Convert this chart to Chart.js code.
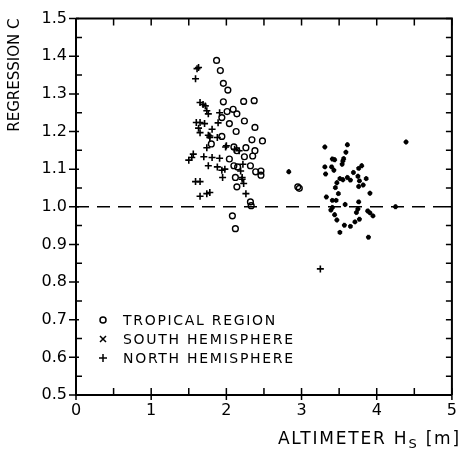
<!DOCTYPE html>
<html>
<head>
<meta charset="utf-8">
<script src="https://cdn.jsdelivr.net/npm/chart.js@4.4.1/dist/chart.umd.min.js"></script>
<style>
  html, body { margin: 0; padding: 0; background: #fff; }
  canvas { display: block; }
</style>
</head>
<body>
<canvas id="myChart" width="463" height="451"></canvas>
<script>
// tropical region (open circles)
const tropicalX = [1.87, 1.92, 1.96, 2.02, 1.96, 2.23, 2.37, 2.01, 2.09, 2.14, 2.24, 2.04, 1.94, 2.13, 2.38, 2.34, 2.48, 1.80, 1.94, 2.10, 2.14, 2.26, 2.38, 2.04, 2.24, 2.35, 2.10, 2.15, 2.32, 2.39, 2.46, 2.46, 2.12, 2.14, 2.32, 2.33, 2.08, 2.12, 2.95, 2.97];
const tropicalY = [1.389, 1.362, 1.328, 1.310, 1.279, 1.280, 1.282, 1.253, 1.259, 1.247, 1.228, 1.221, 1.237, 1.200, 1.211, 1.178, 1.175, 1.167, 1.187, 1.159, 1.149, 1.157, 1.149, 1.127, 1.133, 1.135, 1.109, 1.106, 1.109, 1.093, 1.095, 1.084, 1.078, 1.053, 1.013, 1.003, 0.976, 0.942, 1.053, 1.049];

// south hemisphere (x)
const southX = [2.83, 3.31, 3.61, 3.59, 3.41, 3.44, 3.56, 3.55, 3.54, 3.31, 3.40, 3.43, 3.32, 3.80, 3.76, 3.69, 3.75, 3.86, 3.51, 3.55, 3.61, 3.65, 3.47, 3.77, 3.76, 3.82, 3.45, 3.91, 3.49, 3.33, 3.41, 3.46, 3.58, 3.76, 4.25, 4.39, 3.41, 3.39, 3.75, 3.73, 3.88, 3.91, 3.95, 3.44, 3.47, 3.77, 3.71, 3.57, 3.65, 3.51, 3.89];
const southY = [1.093, 1.159, 1.165, 1.145, 1.127, 1.125, 1.128, 1.122, 1.113, 1.106, 1.106, 1.097, 1.087, 1.109, 1.102, 1.091, 1.081, 1.075, 1.075, 1.072, 1.078, 1.071, 1.064, 1.069, 1.054, 1.058, 1.051, 1.036, 1.035, 1.026, 1.017, 1.017, 1.006, 1.013, 1.000, 1.172, 0.998, 0.991, 0.994, 0.985, 0.989, 0.984, 0.976, 0.979, 0.965, 0.967, 0.960, 0.951, 0.948, 0.932, 0.919];

// north hemisphere (+)
const northX = [1.61, 1.63, 1.59, 1.65, 1.69, 1.72, 1.74, 1.76, 1.60, 1.65, 1.71, 1.63, 1.81, 1.65, 1.76, 1.78, 1.88, 1.91, 1.89, 1.74, 1.99, 1.56, 1.54, 1.50, 1.70, 1.81, 1.91, 1.76, 1.88, 1.94, 1.98, 1.95, 1.59, 1.65, 1.65, 1.74, 1.78, 2.26, 2.23, 2.21, 2.11, 2.17, 2.22, 2.19, 2.21, 2.00, 1.78, 3.25];
const northY = [1.367, 1.370, 1.340, 1.277, 1.272, 1.268, 1.255, 1.247, 1.224, 1.224, 1.221, 1.209, 1.206, 1.197, 1.190, 1.184, 1.184, 1.250, 1.223, 1.157, 1.159, 1.140, 1.131, 1.124, 1.133, 1.131, 1.129, 1.109, 1.106, 1.097, 1.100, 1.078, 1.067, 1.067, 1.028, 1.035, 1.038, 1.035, 1.062, 1.073, 1.153, 1.149, 1.113, 1.095, 1.078, 1.162, 1.188, 0.835];

const xTicks = [0, 1, 2, 3, 4, 5];
const seriesNames = ["TROPICAL REGION", "SOUTH HEMISPHERE", "NORTH HEMISPHERE"];

const FONT = "'DejaVu Sans', sans-serif";

function pts(xs, ys) {
  return xs.map((x, i) => ({ x: x, y: ys[i] }));
}

// dashed line at C = 1.0
const refLine = {
  id: "refLine",
  beforeDatasetsDraw(chart) {
    const { ctx, chartArea, scales } = chart;
    const y = scales.y.getPixelForValue(1.0);
    ctx.save();
    ctx.strokeStyle = "#000";
    ctx.lineWidth = 1.5;
    ctx.setLineDash([13, 8]);
    ctx.beginPath();
    ctx.moveTo(chartArea.left, y);
    ctx.lineTo(chartArea.right, y);
    ctx.stroke();
    ctx.restore();
  }
};

// box, tick marks, legend and x title
const decor = {
  id: "decor",
  afterDraw(chart) {
    const { ctx, chartArea: a, scales } = chart;
    const sx = scales.x, sy = scales.y;
    ctx.save();
    ctx.strokeStyle = "#000";
    ctx.fillStyle = "#000";
    ctx.lineWidth = 2;
    ctx.beginPath();
    ctx.moveTo(a.left, a.top);
    ctx.lineTo(a.right, a.top);
    ctx.lineTo(a.right, a.bottom);
    ctx.stroke();

    ctx.lineWidth = 1.5;
    ctx.beginPath();
    for (let v = 0; v <= 5.001; v += 0.5) {
      const px = sx.getPixelForValue(v);
      ctx.moveTo(px, a.top); ctx.lineTo(px, a.top + 7);
      const major = Math.abs(v - Math.round(v)) < 0.01;
      ctx.moveTo(px, a.bottom - 7); ctx.lineTo(px, a.bottom + (major ? 5 : 0));
    }
    for (let v = 0.5; v <= 1.501; v += 0.05) {
      const py = sy.getPixelForValue(v);
      const major = Math.abs(v * 10 - Math.round(v * 10)) < 0.01;
      ctx.moveTo(a.right, py); ctx.lineTo(a.right - 6, py);
      if (major) { ctx.moveTo(a.left - 7, py); ctx.lineTo(a.left + 3, py); }
      else { ctx.moveTo(a.left, py); ctx.lineTo(a.left + 6, py); }
    }
    ctx.stroke();

    // legend inside the plot
    ctx.font = "14px " + FONT;
    ctx.letterSpacing = "1.7px";
    ctx.textBaseline = "middle";
    ctx.textAlign = "left";
    const lx = 103, tx = 123, rows = [320, 339, 358];
    chart.data.datasets.forEach((ds, i) => {
      const y = rows[i];
      ctx.lineWidth = 1.5;
      ctx.beginPath();
      if (i === 0) {
        ctx.arc(lx, y, 3, 0, Math.PI * 2);
      } else if (i === 1) {
        ctx.moveTo(lx - 3, y - 3); ctx.lineTo(lx + 3, y + 3);
        ctx.moveTo(lx - 3, y + 3); ctx.lineTo(lx + 3, y - 3);
      } else {
        ctx.moveTo(lx - 4, y); ctx.lineTo(lx + 4, y);
        ctx.moveTo(lx, y - 4); ctx.lineTo(lx, y + 4);
      }
      ctx.stroke();
      ctx.fillText(ds.label, tx, y + 1);
    });

    // x axis title with subscript
    ctx.letterSpacing = "1.8px";
    ctx.textBaseline = "alphabetic";
    const p1 = "ALTIMETER H", p3 = " [m]";
    ctx.font = "13px " + FONT;
    const wSub = ctx.measureText("S").width;
    ctx.font = "17px " + FONT;
    const w1 = ctx.measureText(p1).width, w3 = ctx.measureText(p3).width;
    const x0 = a.right + 9 - (w1 + wSub + w3);
    const base = 444;
    ctx.fillText(p1, x0, base);
    ctx.font = "13px " + FONT;
    ctx.fillText("S", x0 + w1, base + 4);
    ctx.font = "17px " + FONT;
    ctx.fillText(p3, x0 + w1 + wSub, base);
    ctx.restore();
  }
};

const data = {
  datasets: [
    {
      label: seriesNames[0],
      data: pts(tropicalX, tropicalY),
      pointStyle: "circle",
      pointRadius: 2.9,
      borderWidth: 1.4,
      borderColor: "#000",
      backgroundColor: "rgba(0,0,0,0)"
    },
    {
      label: seriesNames[1],
      data: pts(southX, southY),
      pointStyle: "crossRot",
      pointRadius: 2.3,
      borderWidth: 3,
      borderColor: "#000",
      backgroundColor: "#000"
    },
    {
      label: seriesNames[2],
      data: pts(northX, northY),
      pointStyle: "cross",
      pointRadius: 3.5,
      borderWidth: 1.6,
      borderColor: "#000",
      backgroundColor: "#000"
    }
  ]
};

const config = {
  type: "scatter",
  data: data,
  plugins: [refLine, decor],
  options: {
    responsive: false,
    animation: false,
    layout: { padding: { top: 18, right: 2, left: 0, bottom: 0 } },
    plugins: {
      legend: { display: false },
      tooltip: { enabled: false }
    },
    scales: {
      x: {
        type: "linear",
        min: 0,
        max: 5,
        afterBuildTicks: (s) => { s.ticks = xTicks.map(v => ({ value: v })); },
        afterFit: (s) => { s.height = 56; },
        grid: { display: false, drawTicks: false },
        border: { color: "#000", width: 2 },
        ticks: {
          color: "#000",
          padding: 6,
          font: { family: FONT, size: 16 }
        }
      },
      y: {
        min: 0.5,
        max: 1.5,
        afterFit: (s) => { s.width = 76; },
        grid: { display: false, drawTicks: false },
        border: { color: "#000", width: 2 },
        ticks: {
          stepSize: 0.1,
          color: "#000",
          padding: 9,
          font: { family: FONT, size: 16 },
          callback: (v) => v.toFixed(1)
        },
        title: {
          display: true,
          text: "REGRESSION C",
          align: "end",
          color: "#000",
          font: { family: FONT, size: 15 },
          padding: { top: 6, bottom: 0 }
        }
      }
    }
  }
};

const myChart = new Chart(document.getElementById("myChart"), config);
</script>
</body>
</html>
